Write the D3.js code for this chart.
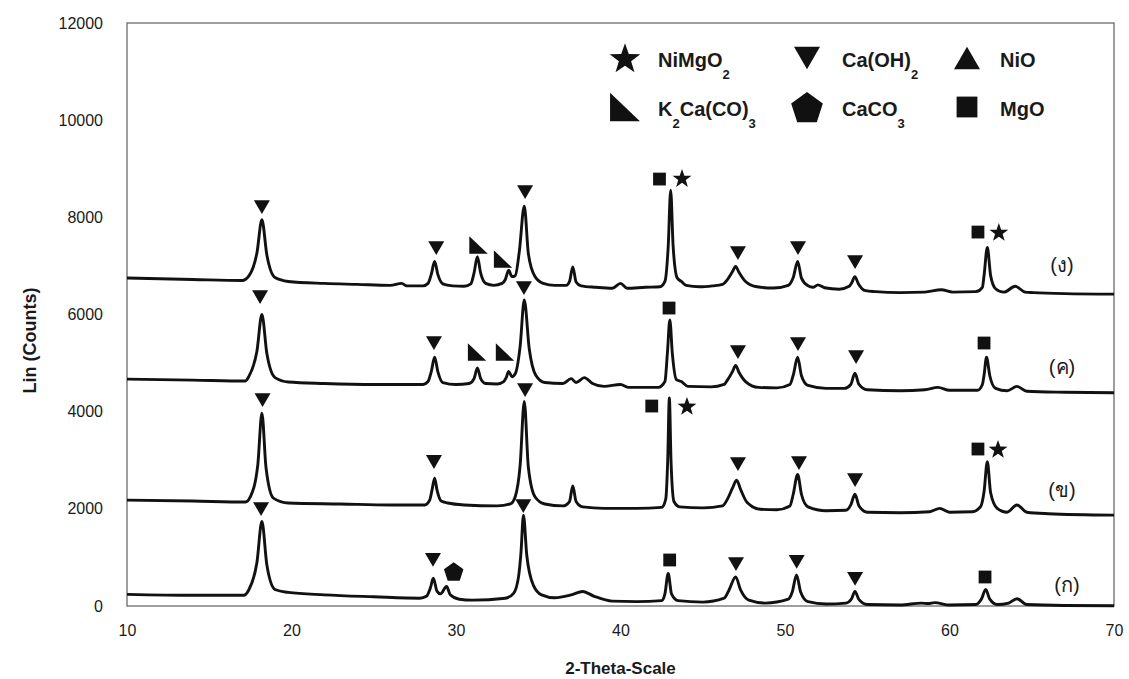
<!DOCTYPE html>
<html>
<head>
<meta charset="utf-8">
<script src="https://cdn.jsdelivr.net/npm/d3@7"></script>
<style>
  html, body { margin: 0; padding: 0; background: #fff; }
  svg { display: block; }
  text { font-family: "Liberation Sans", Arial, sans-serif; fill: #1a1a1a; }
</style>
</head>
<body>
<svg id="chart" width="1129" height="679"></svg>
<script>
// ---- tick labels ----
const xTicks = [10, 20, 30, 40, 50, 60, 70];
const yTicks = [0, 2000, 4000, 6000, 8000, 10000, 12000];

// ---- diffraction patterns: [2-theta, counts] ----
// (ก)
const patternA = [
  [10, 240], [14, 220], [17.1, 220], [17.4, 330], [17.9, 900], [18.2, 1740], [18.5, 850], [19.0, 340],
  [19.8, 280], [22, 230], [25, 190], [27.8, 160], [28.2, 200], [28.45, 380], [28.62, 570], [28.85, 300],
  [29.05, 250], [29.43, 400], [29.65, 230], [30.2, 140], [31, 120], [33.0, 160], [33.5, 260], [33.8, 600],
  [33.95, 1100], [34.1, 1870], [34.3, 1050], [34.7, 430], [35.2, 230], [36, 170], [37, 230], [37.7, 300],
  [38.4, 200], [39.5, 100], [41, 90], [42.5, 110], [42.7, 250], [42.9, 670], [43.1, 250], [43.5, 110],
  [45, 80], [46.3, 160], [46.6, 330], [47.0, 600], [47.3, 330], [47.8, 120], [48.8, 60], [50.2, 140],
  [50.45, 300], [50.7, 640], [50.95, 290], [51.4, 90], [52.5, 40], [53.7, 60], [54.05, 150], [54.25, 300],
  [54.5, 130], [55, 30], [57, 20], [58.3, 60], [58.7, 50], [59.1, 70], [60, 20], [61.6, 30], [61.95, 150],
  [62.2, 340], [62.45, 140], [62.9, 30], [63.6, 60], [64.1, 150], [64.7, 30], [67, 10], [70, 5]
];
// (ข)
const patternB = [
  [10, 2180], [14, 2160], [17.2, 2140], [17.5, 2250], [17.95, 2900], [18.2, 3970], [18.45, 2850], [18.9, 2220],
  [19.8, 2120], [23, 2100], [26, 2080], [28.1, 2080], [28.4, 2180], [28.55, 2400], [28.7, 2630], [28.85, 2380],
  [29.1, 2160], [29.5, 2120], [30.5, 2080], [32.5, 2060], [33.3, 2100], [33.6, 2250], [33.9, 2900], [34.15, 4210],
  [34.4, 2850], [34.8, 2250], [35.4, 2100], [36.5, 2060], [36.9, 2150], [37.1, 2470], [37.3, 2150], [37.7, 2040],
  [39, 2010], [41, 2010], [42.5, 2030], [42.75, 2200], [42.87, 3000], [42.97, 4280], [43.07, 3000], [43.25, 2150],
  [43.6, 2040], [45, 2020], [46.2, 2060], [46.5, 2200], [46.8, 2420], [47.06, 2590], [47.3, 2400], [47.7, 2130],
  [48.5, 1990], [49.5, 1980], [50.3, 2060], [50.5, 2300], [50.77, 2710], [51.0, 2300], [51.4, 2040], [52.5, 1960],
  [53.7, 1970], [54.0, 2080], [54.25, 2300], [54.5, 2060], [55, 1930], [57, 1920], [58.8, 1940], [59.4, 2010],
  [60, 1930], [61.4, 1940], [61.9, 2050], [62.1, 2350], [62.3, 2970], [62.5, 2330], [62.9, 2010], [63.5, 1930],
  [64.1, 2080], [64.7, 1930], [66, 1900], [70, 1870]
];
// (ค)
const patternC = [
  [10, 4670], [14, 4650], [17.2, 4630], [17.4, 4720], [17.9, 5250], [18.2, 6000], [18.5, 5200], [19.0, 4700],
  [19.8, 4610], [22, 4580], [25, 4560], [28.0, 4560], [28.3, 4620], [28.5, 4830], [28.7, 5120], [28.9, 4820],
  [29.2, 4600], [30, 4560], [30.8, 4580], [31.1, 4680], [31.3, 4900], [31.5, 4680], [31.8, 4580], [32.5, 4570],
  [32.9, 4620], [33.05, 4700], [33.2, 4830], [33.4, 4720], [33.6, 4780], [33.9, 5350], [34.15, 6300], [34.45, 5300],
  [34.85, 4750], [35.4, 4600], [36.5, 4580], [37.0, 4680], [37.3, 4600], [37.8, 4700], [38.3, 4580], [39.0, 4520],
  [40.0, 4560], [40.5, 4500], [42.3, 4500], [42.7, 4620], [42.85, 5200], [43.0, 5890], [43.15, 5200], [43.4, 4660],
  [43.7, 4620], [44.1, 4520], [45.5, 4510], [46.3, 4560], [46.5, 4650], [46.8, 4820], [47.0, 4950], [47.2, 4810],
  [47.6, 4620], [48.4, 4500], [49.5, 4490], [50.3, 4560], [50.5, 4750], [50.77, 5120], [51.0, 4740], [51.4, 4540],
  [52.5, 4480], [53.6, 4480], [54.0, 4560], [54.25, 4790], [54.5, 4560], [55, 4450], [57, 4430], [58.5, 4450],
  [59.3, 4500], [60, 4440], [61.7, 4440], [62.0, 4560], [62.1, 4750], [62.25, 5120], [62.45, 4740], [62.8, 4480],
  [63.5, 4430], [64.1, 4520], [64.7, 4420], [67, 4400], [70, 4390]
];
// (ง)
const patternD = [
  [10, 6750], [14, 6720], [17.0, 6700], [17.4, 6790], [17.9, 7270], [18.2, 7950], [18.5, 7230], [19.0, 6760],
  [19.8, 6680], [22, 6640], [24, 6620], [26, 6600], [26.7, 6640], [27, 6590], [28.0, 6590], [28.3, 6640],
  [28.5, 6830], [28.7, 7090], [28.9, 6820], [29.2, 6630], [29.8, 6590], [30.5, 6580], [30.9, 6630], [31.1, 6860],
  [31.3, 7190], [31.5, 6850], [31.8, 6640], [32.3, 6600], [32.8, 6640], [33.0, 6720], [33.2, 6910], [33.4, 6780],
  [33.6, 6800], [33.85, 7300], [34.15, 8230], [34.4, 7250], [34.8, 6780], [35.3, 6640], [36.0, 6600], [36.7, 6600],
  [36.9, 6680], [37.1, 6980], [37.3, 6670], [37.6, 6590], [38.5, 6560], [39.5, 6540], [40.0, 6640], [40.4, 6540],
  [41.5, 6560], [42.4, 6570], [42.7, 6680], [42.9, 7400], [43.05, 8560], [43.2, 7400], [43.45, 6750], [43.7, 6680],
  [44.0, 6600], [44.8, 6570], [45.6, 6590], [46.2, 6620], [46.5, 6720], [46.8, 6880], [47.0, 6990], [47.2, 6870],
  [47.6, 6680], [48.3, 6570], [49.3, 6545], [50.2, 6600], [50.5, 6760], [50.77, 7090], [51.0, 6750], [51.4, 6590],
  [51.7, 6560], [52.0, 6610], [52.4, 6550], [53.3, 6520], [53.9, 6580], [54.05, 6650], [54.25, 6780], [54.45, 6640],
  [54.9, 6490], [55.5, 6470], [57.0, 6450], [58.5, 6460], [59.5, 6510], [60.2, 6460], [61.6, 6470], [62.0, 6560],
  [62.1, 6800], [62.3, 7380], [62.5, 6800], [62.8, 6530], [63.3, 6460], [64.0, 6580], [64.6, 6460], [65.1, 6450],
  [67, 6430], [70, 6420]
];

// ---- phase markers: [symbol, 2-theta, counts] ----
const markersA = [
  ["down", 18.15, 1996], ["down", 28.6, 947], ["pent", 29.86, 710], ["down", 34.09, 2058],
  ["square", 42.99, 947], ["down", 47.02, 864], ["down", 50.71, 906], ["down", 54.26, 556], ["square", 62.16, 597]
];
const markersB = [
  ["down", 18.24, 4239], ["down", 28.66, 2964], ["down", 34.2, 4445], ["square", 41.9, 4116], ["star", 44.04, 4116],
  ["down", 47.14, 2922], ["down", 50.85, 2943], ["down", 54.26, 2593], ["square", 61.73, 3231], ["star", 62.95, 3231]
];
const markersC = [
  ["down", 18.09, 6360], ["down", 28.66, 5413], ["rtri", 31.28, 5227], ["rtri", 32.98, 5227], ["down", 34.13, 6544],
  ["square", 42.95, 6133], ["down", 47.14, 5227], ["down", 50.79, 5392], ["down", 54.32, 5124], ["square", 62.1, 5413]
];
const markersD = [
  ["down", 18.2, 8211], ["down", 28.8, 7368], ["rtri", 31.37, 7430], ["rtri", 32.86, 7141], ["down", 34.2, 8520],
  ["square", 42.37, 8788], ["star", 43.74, 8808], ["down", 47.14, 7265], ["down", 50.79, 7368], ["down", 54.26, 7080],
  ["square", 61.73, 7697], ["star", 63.0, 7697]
];

// ---- sample labels: [text, 2-theta, counts] ----
const sampleLabels = [
  ["(ก)", 67.14, 432], ["(ข)", 66.84, 2387], ["(ค)", 66.84, 4919], ["(ง)", 66.84, 7018]
];

// ---- legend ----
const legendSymbols = ["star", "down", "up", "rtri", "pent", "square"];
const legendNames = [
  [["NiMgO", ""], ["2", "sub"]],
  [["Ca(OH)", ""], ["2", "sub"]],
  [["NiO", ""]],
  [["K", ""], ["2", "sub"], ["Ca(CO)", ""], ["3", "sub"]],
  [["CaCO", ""], ["3", "sub"]],
  [["MgO", ""]]
];

// ---------------------------------------------------------------
const svg = d3.select("#chart");
const margin = { left: 127, right: 1129 - 1114, top: 23, bottom: 679 - 606 };
const W = 1129, H = 679;

const x = d3.scaleLinear().domain([10, 70]).range([margin.left, W - margin.right]);
const y = d3.scaleLinear().domain([0, 12000]).range([H - margin.bottom, margin.top]);

// plot frame
svg.append("rect")
  .attr("x", x(10)).attr("y", y(12000))
  .attr("width", x(70) - x(10)).attr("height", y(0) - y(12000))
  .attr("fill", "none").attr("stroke", "#6a6a6a").attr("stroke-width", 1.3);

// axes (labels only, no tick marks)
const yAxis = svg.append("g")
  .attr("transform", `translate(${x(10)},0)`)
  .call(d3.axisLeft(y).tickValues(yTicks).tickSize(0).tickPadding(24).tickFormat(d3.format("d")));
const xAxis = svg.append("g")
  .attr("transform", `translate(0,${y(0)})`)
  .call(d3.axisBottom(x).tickValues(xTicks).tickSize(0).tickPadding(19).tickFormat(d3.format("d")));
[xAxis, yAxis].forEach(g => {
  g.select(".domain").remove();
  g.selectAll("text").attr("font-size", 16).attr("fill", "#222")
    .attr("font-family", "'Liberation Sans', Arial, sans-serif");
});

// axis titles
svg.append("text")
  .attr("x", (x(10) + x(70)) / 2).attr("y", 674)
  .attr("text-anchor", "middle").attr("font-size", 17).attr("font-weight", "bold")
  .text("2-Theta-Scale");
svg.append("text")
  .attr("transform", `translate(36,${(y(0) + y(12000)) / 2 + 26}) rotate(-90)`)
  .attr("text-anchor", "middle").attr("font-size", 18).attr("font-weight", "bold")
  .text("Lin (Counts)");

// patterns
const line = d3.line().x(d => x(d[0])).y(d => y(d[1])).curve(d3.curveMonotoneX);
[patternA, patternB, patternC, patternD].forEach(p => {
  svg.append("path").datum(p).attr("d", line)
    .attr("fill", "none").attr("stroke", "#111").attr("stroke-width", 2.9)
    .attr("stroke-linejoin", "round");
});

// symbol shapes centred on the origin
function shapePath(type, s) {
  const p = d3.path();
  if (type === "down") {
    const w = s, h = s * 0.86;
    p.moveTo(-w / 2, -h / 2); p.lineTo(w / 2, -h / 2); p.lineTo(0, h / 2); p.closePath();
  } else if (type === "up") {
    const w = s, h = s * 0.86;
    p.moveTo(-w / 2, h / 2); p.lineTo(w / 2, h / 2); p.lineTo(0, -h / 2); p.closePath();
  } else if (type === "square") {
    const a = s * 0.8;
    p.rect(-a / 2, -a / 2, a, a);
  } else if (type === "rtri") {
    const w = s * 1.15, h = s * 1.1;
    p.moveTo(-w / 2, -h / 2); p.lineTo(-w / 2, h / 2); p.lineTo(w / 2, h / 2); p.closePath();
  } else if (type === "star") {
    const R = s * 0.62, r = R * 0.4;
    for (let i = 0; i < 10; i++) {
      const rad = i % 2 === 0 ? R : r;
      const a = -Math.PI / 2 + i * Math.PI / 5;
      const px = rad * Math.cos(a), py = rad * Math.sin(a) + R * 0.08;
      if (i === 0) p.moveTo(px, py); else p.lineTo(px, py);
    }
    p.closePath();
  } else if (type === "pent") {
    const R = s * 0.64;
    for (let i = 0; i < 5; i++) {
      const a = -Math.PI / 2 + i * 2 * Math.PI / 5;
      const px = R * Math.cos(a), py = R * Math.sin(a) + R * 0.1;
      if (i === 0) p.moveTo(px, py); else p.lineTo(px, py);
    }
    p.closePath();
  }
  return p.toString();
}

// markers on peaks
[markersA, markersB, markersC, markersD].forEach(ms => {
  svg.append("g").selectAll("path").data(ms).join("path")
    .attr("transform", d => `translate(${x(d[1])},${y(d[2])})`)
    .attr("d", d => shapePath(d[0], 16))
    .attr("fill", "#111");
});

// sample labels
svg.append("g").selectAll("text").data(sampleLabels).join("text")
  .attr("x", d => x(d[1])).attr("y", d => y(d[2]) + 7)
  .attr("text-anchor", "middle").attr("font-size", 20)
  .attr("font-family", "'Noto Sans Thai', 'Noto Sans', 'DejaVu Sans', sans-serif")
  .text(d => d[0]);

// legend: three columns, two rows
const legCols = [625, 807, 967];
const legTextX = [658, 842, 1000];
const legRowY = [58, 107];
legendSymbols.forEach((sym, i) => {
  const col = i % 3, row = Math.floor(i / 3);
  svg.append("path")
    .attr("transform", `translate(${legCols[col]},${legRowY[row]})`)
    .attr("d", shapePath(sym, 26))
    .attr("fill", "#111");
  const t = svg.append("text")
    .attr("x", legTextX[col]).attr("y", legRowY[row] + 9)
    .attr("font-size", 20).attr("font-weight", "bold");
  let prevSub = false;
  legendNames[i].forEach(([str, kind]) => {
    const ts = t.append("tspan").text(str);
    if (kind === "sub") { ts.attr("font-size", 13).attr("dy", 12); prevSub = true; }
    else if (prevSub) { ts.attr("dy", -12); prevSub = false; }
  });
});
</script>
</body>
</html>
